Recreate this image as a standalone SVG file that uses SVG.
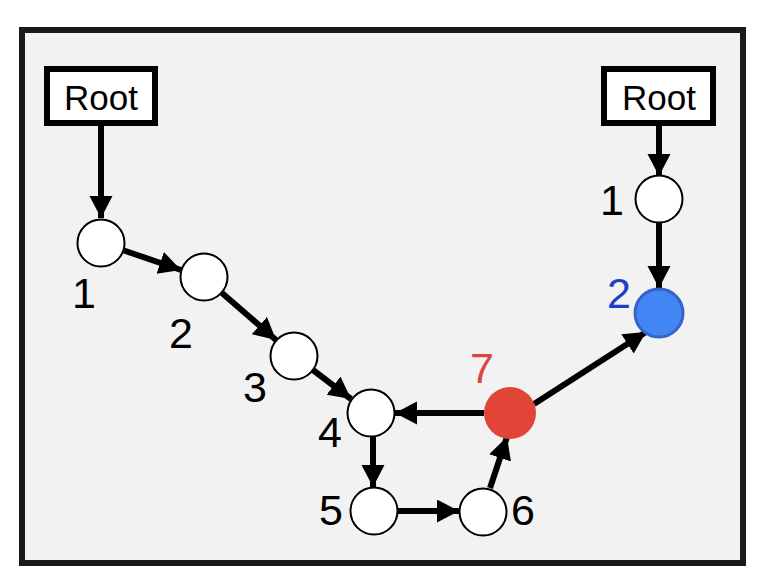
<svg xmlns="http://www.w3.org/2000/svg" width="766" height="585" viewBox="0 0 766 585">
<defs>
<style>
.node{fill:#ffffff;stroke:#000;stroke-width:2}
.box{fill:#ffffff;stroke:#000;stroke-width:6}
.lbl{font-family:"Liberation Sans",Arial,sans-serif;font-size:43px;fill:#000}
.root{font-family:"Liberation Sans",Arial,sans-serif;font-size:35px;fill:#000;text-anchor:middle}
.edge{stroke:#000;stroke-width:6;fill:none;marker-end:url(#ah)}
</style>
<marker id="ah" markerUnits="userSpaceOnUse" markerWidth="24" markerHeight="24" refX="22" refY="11.5" orient="auto">
<path d="M0,0 L22,11.5 L0,23 z" fill="#000"/>
</marker>
</defs>
<rect x="0" y="0" width="766" height="585" fill="#ffffff"/>
<rect x="22" y="30" width="721" height="533" fill="#f2f2f2" stroke="#1a1a1a" stroke-width="6"/>
<g id="connectors">
<line class="edge" x1="101" y1="126" x2="101" y2="218"/>
<line class="edge" x1="124" y1="250.5" x2="181" y2="270"/>
<line class="edge" x1="222" y1="293" x2="276" y2="340"/>
<line class="edge" x1="313" y1="370" x2="351" y2="399"/>
<line class="edge" x1="373" y1="436" x2="373" y2="487"/>
<line class="edge" x1="398" y1="511" x2="459" y2="511"/>
<line class="edge" x1="490" y1="488" x2="507" y2="437"/>
<line class="edge" x1="484" y1="413" x2="395" y2="413"/>
<line class="edge" x1="534" y1="404" x2="646" y2="332"/>
<line class="edge" x1="659" y1="126" x2="659" y2="176"/>
<line class="edge" x1="659" y1="222" x2="659" y2="288"/>
</g>
<g id="rootL"><rect class="box" x="47" y="69" width="108" height="54"/><text class="root" x="101" y="110">Root</text></g>
<g id="rootR"><rect class="box" x="604" y="69" width="109" height="54"/><text class="root" x="659" y="110">Root</text></g>
<g id="L1"><circle class="node" cx="101" cy="243" r="23.5"/><text class="lbl" x="72" y="308">1</text></g>
<g id="L2"><circle class="node" cx="204" cy="277" r="23.5"/><text class="lbl" x="169" y="348">2</text></g>
<g id="L3"><circle class="node" cx="294" cy="356" r="23.5"/><text class="lbl" x="243" y="402">3</text></g>
<g id="L4"><circle class="node" cx="371" cy="413" r="23.5"/><text class="lbl" x="318" y="447">4</text></g>
<g id="L5"><circle class="node" cx="374" cy="511" r="23.5"/><text class="lbl" x="319" y="525">5</text></g>
<g id="L6"><circle class="node" cx="483" cy="512" r="23.5"/><text class="lbl" x="511" y="525">6</text></g>
<g id="L7"><circle cx="510" cy="413" r="26" fill="#e04538"/><text class="lbl" x="470" y="383" style="fill:#d9473c">7</text></g>
<g id="R1"><circle class="node" cx="659" cy="199" r="23.5"/><text class="lbl" x="600" y="215">1</text></g>
<g id="R2"><circle cx="659" cy="313" r="24" fill="#4285f4" stroke="#3563c7" stroke-width="3"/><text class="lbl" x="607" y="308" style="fill:#1b3ec9">2</text></g>
</svg>
